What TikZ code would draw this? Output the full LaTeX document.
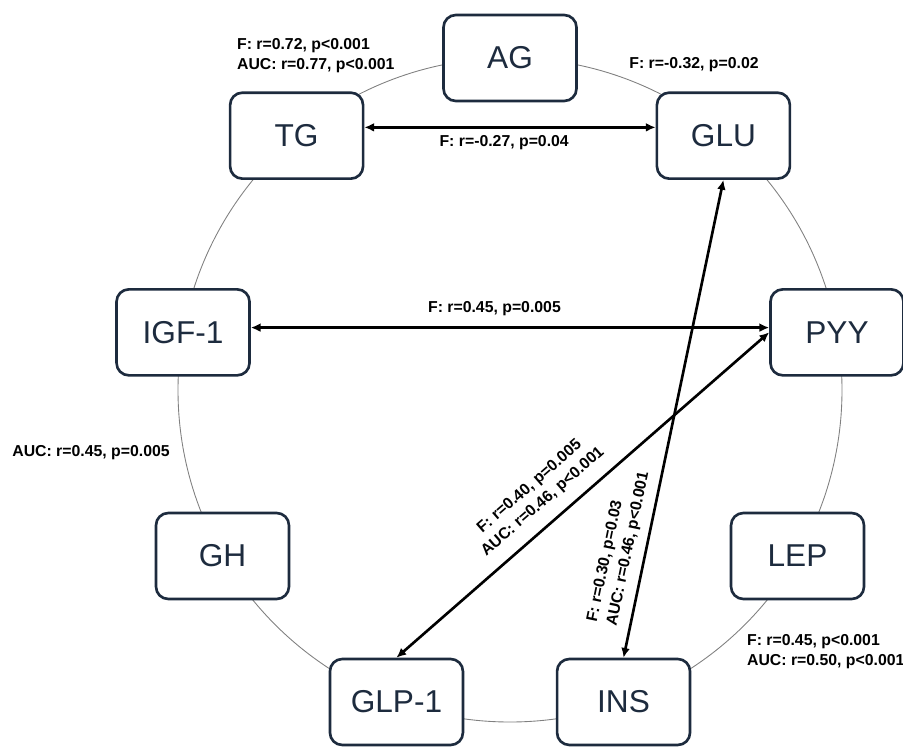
\documentclass[tikz,border=0pt]{standalone}
\usepackage{fontspec}
\setmainfont{Liberation Sans}
\usetikzlibrary{calc,arrows.meta}
\definecolor{navy}{HTML}{1D2B3E}
\tikzset{
  hormone/.style={draw=navy, text=navy, fill=white, line width=1.5pt, rounded corners=7pt,
    minimum width=2.66cm, minimum height=1.72cm, font=\fontsize{18}{20}\selectfont},
  corr/.style={font=\bfseries\fontsize{9}{11.5}\selectfont, inner sep=1pt},
  link/.style={{Latex[length=5.5pt,width=5pt]}-{Latex[length=5.5pt,width=5pt]}, line width=1.5pt},
  ring/.style={draw=gray, line width=0.5pt},
}

\begin{document}
\begin{tikzpicture}[x=0.02cm, y=0.02cm]
        \useasboundingbox (0,0) rectangle (903,-748);

        % Nodes

        \coordinate (c) at (510,-390);
        \draw[ring] (c) circle[radius=332];
        \node[hormone] (AG) at ($(c)+(90:332)$) {AG};
        \node[hormone] (TG) at ($(c)+(130:332)$) {TG};
        \node[hormone] (IGF) at ($(c)+(170:332)$) {IGF-1};
        \node[hormone] (GH) at ($(c)+(210:332)$) {GH};
        \node[hormone] (GLP) at ($(c)+(250:332)$) {GLP-1};
        \node[hormone] (INS) at ($(c)+(290:332)$) {INS};
        \node[hormone] (LEP) at ($(c)+(330:332)$) {LEP};
        \node[hormone] (PYY) at ($(c)+(10:332)$) {PYY};
        \node[hormone] (GLU) at ($(c)+(50:332)$) {GLU};

        % Edges

        \draw[link] (TG.7) -- node[corr, below=3pt, pos=0.48] {F: r=-0.27, p=0.04} (GLU.173);
        \draw[link] (IGF.4) -- node[corr, above=5pt, pos=0.47] {F: r=0.45, p=0.005} (PYY.176);
        \draw[link] (GLP.north) -- node[corr, sloped, above=6pt, pos=0.43, align=center]
            {F: r=0.40, p=0.005\\AUC: r=0.46, p<0.001} (PYY.west);
        \draw[link] (INS.north) -- node[corr, sloped, above=4pt, pos=0.22, align=left]
            {F: r=0.30, p=0.03\\AUC: r=0.46, p<0.001} (GLU.south);

        % Ring labels

        \node[corr, anchor=west, align=left] (tgag) at (235,-56) {F: r=0.72, p<0.001\\AUC: r=0.77, p<0.001};
        \node[corr] (agglu) at (694,-65) {F: r=-0.32, p=0.02};
        \node[corr] (igfgh) at (91,-453) {AUC: r=0.45, p=0.005};
        \node[corr, anchor=west, align=left] (lepins) at (745,-652) {F: r=0.45, p<0.001\\AUC: r=0.50, p<0.001};

    \end{tikzpicture}
\end{document}
